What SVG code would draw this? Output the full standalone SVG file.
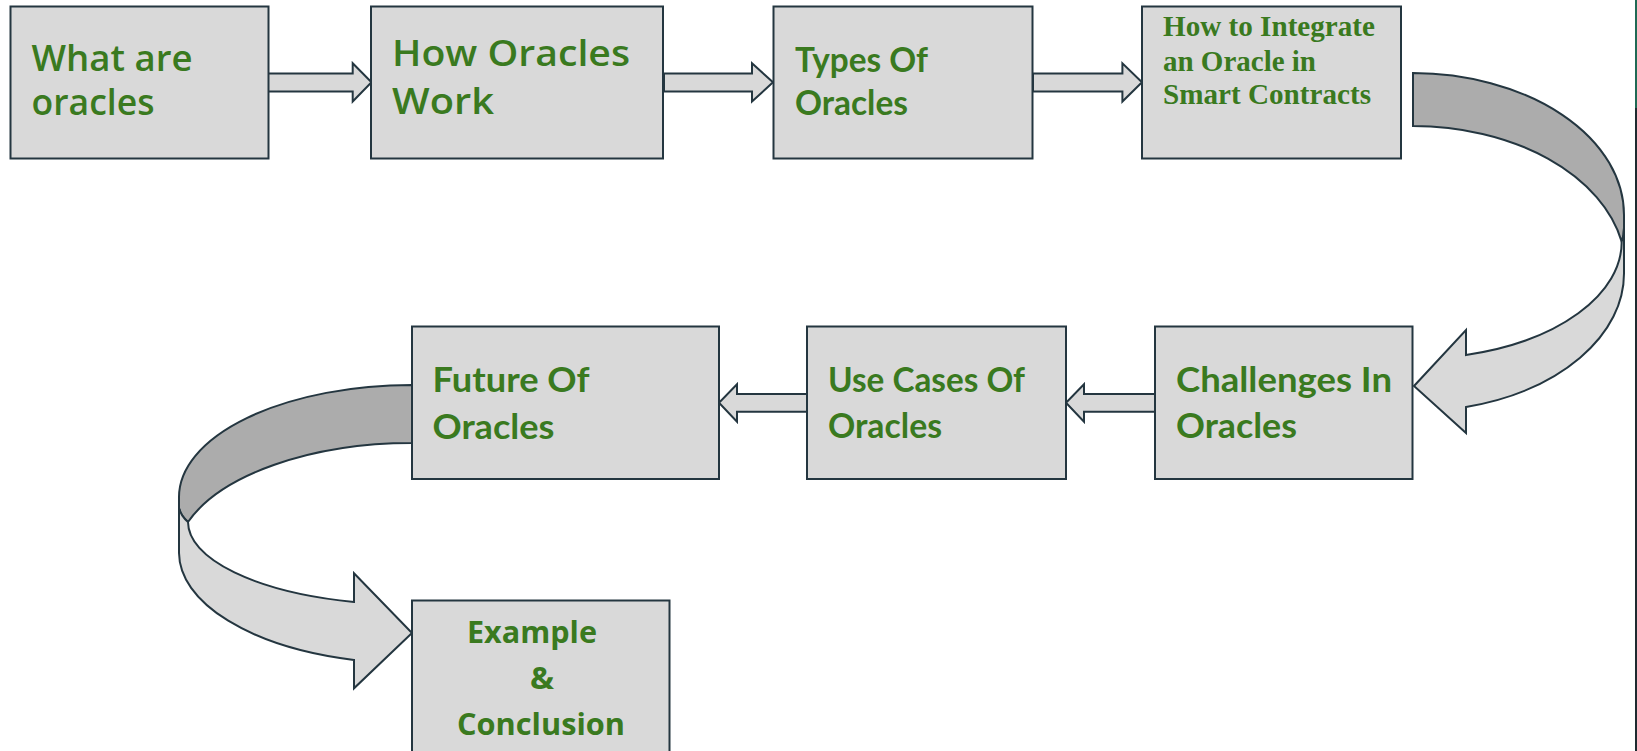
<svg xmlns="http://www.w3.org/2000/svg" width="1637" height="751" viewBox="0 0 1637 751">
<style>
.box{fill:#d9d9d9;stroke:#243640;stroke-width:2}
.arr{fill:#d9d9d9;stroke:#243640;stroke-width:2;stroke-linejoin:miter}
.dark{fill:#acacac;stroke:#243640;stroke-width:2}
.t{fill:#3a7a1f}
.n{font-family:"Open Sans","Noto Sans",sans-serif;font-weight:600;font-size:36px}
.c{font-family:Lato,"Open Sans",sans-serif;font-weight:700;font-size:33.5px}
.s{font-family:"Liberation Serif","Times New Roman",serif;font-weight:700;font-size:29px}
.e{font-family:"Open Sans","Noto Sans",sans-serif;font-weight:700;font-size:31px}
</style>
<rect width="1637" height="751" fill="#ffffff"/>
<line x1="1636" y1="0" x2="1636" y2="108" stroke="#1f6a55" stroke-width="2"/>
<line x1="1636" y1="108" x2="1636" y2="751" stroke="#1e2a30" stroke-width="2"/>

<g id="connectors">
  <path class="arr" d="M268,73.5 H352.7 V63.3 L371.5,82.3 L352.7,101.5 V91.5 H268 Z"/>
  <path class="arr" d="M664,73.5 H752 V63.3 L773,82.3 L752,101.5 V91.5 H664 Z"/>
  <path class="arr" d="M1033,73.5 H1122.4 V63.3 L1142,82.3 L1122.4,101.5 V91.5 H1033 Z"/>
  <path class="arr" d="M1155,394 H1084 V384.3 L1066,402.7 L1084,421.7 V411.7 H1155 Z"/>
  <path class="arr" d="M807,394 H737 V384.3 L719,402.7 L737,421.7 V411.7 H807 Z"/>
  <path class="dark" d="M1413,73 A212 142 0 0 1 1624,215 L1624,228 Q1624,236 1621.7,241.7 A212.9 144 0 0 0 1413,126 Z"/>
  <path class="arr" d="M1624,228 L1624,273 A211 138 0 0 1 1466,407 L1466,433 L1414,386 L1466,330 L1466,355 A208.7 117 0 0 0 1621.7,241.7 Q1624,236 1624,228 Z"/>
  <path class="dark" d="M412,385 A233 112 0 0 0 179,497 L179,508 Q181,516 188,522 A236.8 117 0 0 1 412,443 Z"/>
  <path class="arr" d="M179,508 L179,553 A233 111 0 0 0 354,660 L354,688.3 L412,633 L354,573.3 L354,602 A224 83 0 0 1 188,522 Q181,516 179,508 Z"/>
</g>

<g id="node-what-are-oracles">
  <rect class="box" x="10.5" y="6.5" width="258" height="152"/>
  <text class="t n" x="31.5" y="70.5" textLength="161" lengthAdjust="spacingAndGlyphs">What are</text>
  <text class="t n" x="31.5" y="115" textLength="123" lengthAdjust="spacingAndGlyphs">oracles</text>
</g>
<g id="node-how-oracles-work">
  <rect class="box" x="371" y="6.5" width="292" height="152"/>
  <text class="t n" x="392" y="66" textLength="238" lengthAdjust="spacingAndGlyphs">How Oracles</text>
  <text class="t n" x="392" y="114" textLength="102" lengthAdjust="spacingAndGlyphs">Work</text>
</g>
<g id="node-types-of-oracles">
  <rect class="box" x="773.5" y="6.5" width="259" height="152"/>
  <text class="t c" x="795" y="72" textLength="133" lengthAdjust="spacingAndGlyphs">Types Of</text>
  <text class="t c" x="795" y="115" textLength="113" lengthAdjust="spacingAndGlyphs">Oracles</text>
</g>
<g id="node-how-to-integrate">
  <rect class="box" x="1142" y="6.5" width="259" height="152"/>
  <text class="t s" x="1163" y="36" textLength="212" lengthAdjust="spacingAndGlyphs">How to Integrate</text>
  <text class="t s" x="1163" y="70.5" textLength="153" lengthAdjust="spacingAndGlyphs">an Oracle in</text>
  <text class="t s" x="1163" y="104" textLength="208" lengthAdjust="spacingAndGlyphs">Smart Contracts</text>
</g>
<g id="node-challenges">
  <rect class="box" x="1155" y="326.5" width="257.5" height="152.5"/>
  <text class="t c" x="1176" y="391.7" textLength="216" lengthAdjust="spacingAndGlyphs">Challenges In</text>
  <text class="t c" x="1176" y="438.3" textLength="121" lengthAdjust="spacingAndGlyphs">Oracles</text>
</g>
<g id="node-use-cases">
  <rect class="box" x="807" y="326.5" width="259" height="152.5"/>
  <text class="t c" x="828" y="391.7" textLength="197" lengthAdjust="spacingAndGlyphs">Use Cases Of</text>
  <text class="t c" x="828" y="438.3" textLength="114" lengthAdjust="spacingAndGlyphs">Oracles</text>
</g>
<g id="node-future">
  <rect class="box" x="412" y="326.5" width="307" height="152.5"/>
  <text class="t c" x="432.5" y="391.7" textLength="157" lengthAdjust="spacingAndGlyphs">Future Of</text>
  <text class="t c" x="432.5" y="439" textLength="122" lengthAdjust="spacingAndGlyphs">Oracles</text>
</g>
<g id="node-example-conclusion">
  <rect class="box" x="412" y="600.5" width="257.5" height="170"/>
  <text class="t e" x="467" y="643" textLength="130" lengthAdjust="spacingAndGlyphs">Example</text>
  <text class="t e" x="530" y="689" textLength="24" lengthAdjust="spacingAndGlyphs">&amp;</text>
  <text class="t e" x="457" y="735" textLength="168" lengthAdjust="spacingAndGlyphs">Conclusion</text>
</g>
</svg>
